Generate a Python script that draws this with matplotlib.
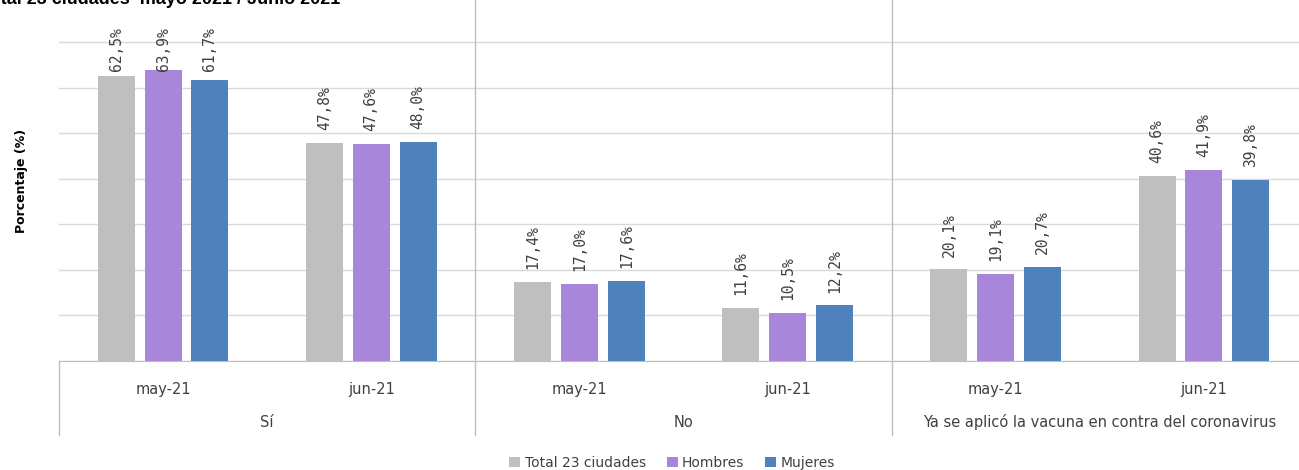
import matplotlib
matplotlib.use("Agg")
import matplotlib.pyplot as plt
import matplotlib.transforms as mtransforms
import numpy as np

groups = ["Sí", "No", "Ya se aplicó la vacuna en contra del coronavirus"]
months = ["may-21", "jun-21"]
series = ["Total 23 ciudades", "Hombres", "Mujeres"]
total = [62.5, 47.8, 17.4, 11.6, 20.1, 40.6]
hombres = [63.9, 47.6, 17.0, 10.5, 19.1, 41.9]
mujeres = [61.7, 48.0, 17.6, 12.2, 20.7, 39.8]
colors = ["#BFBFBF", "#A886DA", "#4F81BD"]
title = "Total 23 ciudades  mayo 2021 / Junio 2021"

fig = plt.figure(figsize=(12.99, 4.70), dpi=100)
ax = fig.add_axes([59/1299, 109/470, 1249/1299, 361/470])

n = len(total)
x = np.arange(n)
bw = 0.178
step = 0.225
for i, (vals, c, name) in enumerate(zip([total, hombres, mujeres], colors, series)):
    pos = x + (i - 1) * step
    ax.bar(pos, vals, width=bw, color=c, label=name, zorder=3)
    for px, v in zip(pos, vals):
        ax.text(px, min(v + 2.8, 63.6), f"{v:.1f}%".replace(".", ","), rotation=90,
                ha="center", va="bottom", fontsize=10.5, color="#404040",
                family="DejaVu Sans Mono", zorder=4)

ax.set_xlim(-0.5, n - 0.5)
ax.set_ylim(0, 79.2)
ax.set_yticks(np.arange(0, 80, 10))
ax.yaxis.grid(True, color="#D9D9D9", linewidth=1, zorder=0)
ax.tick_params(axis="y", length=0, labelleft=False)
ax.tick_params(axis="x", length=0, labelbottom=False)
for s in ["top", "right", "left"]:
    ax.spines[s].set_visible(False)
ax.spines["bottom"].set_color("#BFBFBF")

trans = mtransforms.blended_transform_factory(ax.transData, ax.transAxes)
for xs in [-0.5, 1.5, 3.5]:
    y0 = 1.0 if xs > -0.5 else 0.0
    ax.plot([xs, xs], [-0.205, y0], transform=trans, color="#BFBFBF",
            linewidth=1, clip_on=False, zorder=2)

for i in range(n):
    ax.text(i, -0.08, months[i % 2], transform=trans, ha="center", va="center",
            fontsize=10.5, color="#404040")
for g, name in enumerate(groups):
    ax.text(2 * g + 0.5, -0.17, name, transform=trans, ha="center", va="center",
            fontsize=10.5, color="#404040")

ax.set_ylabel("Porcentaje (%)", fontsize=9, fontweight="bold", labelpad=22)

fig.text(-20/1299, 1 - 4/470, title, fontsize=13, fontweight="bold",
         family="Liberation Sans", va="baseline", ha="left", color="#000000")

fig.legend(loc="center", bbox_to_anchor=(672/1299, 1 - 463/470), ncol=3,
           frameon=False, fontsize=10, handlelength=0.8, handleheight=0.8,
           handletextpad=0.3, columnspacing=1.5, labelcolor="#404040")

fig.savefig("out.png", dpi=100)
